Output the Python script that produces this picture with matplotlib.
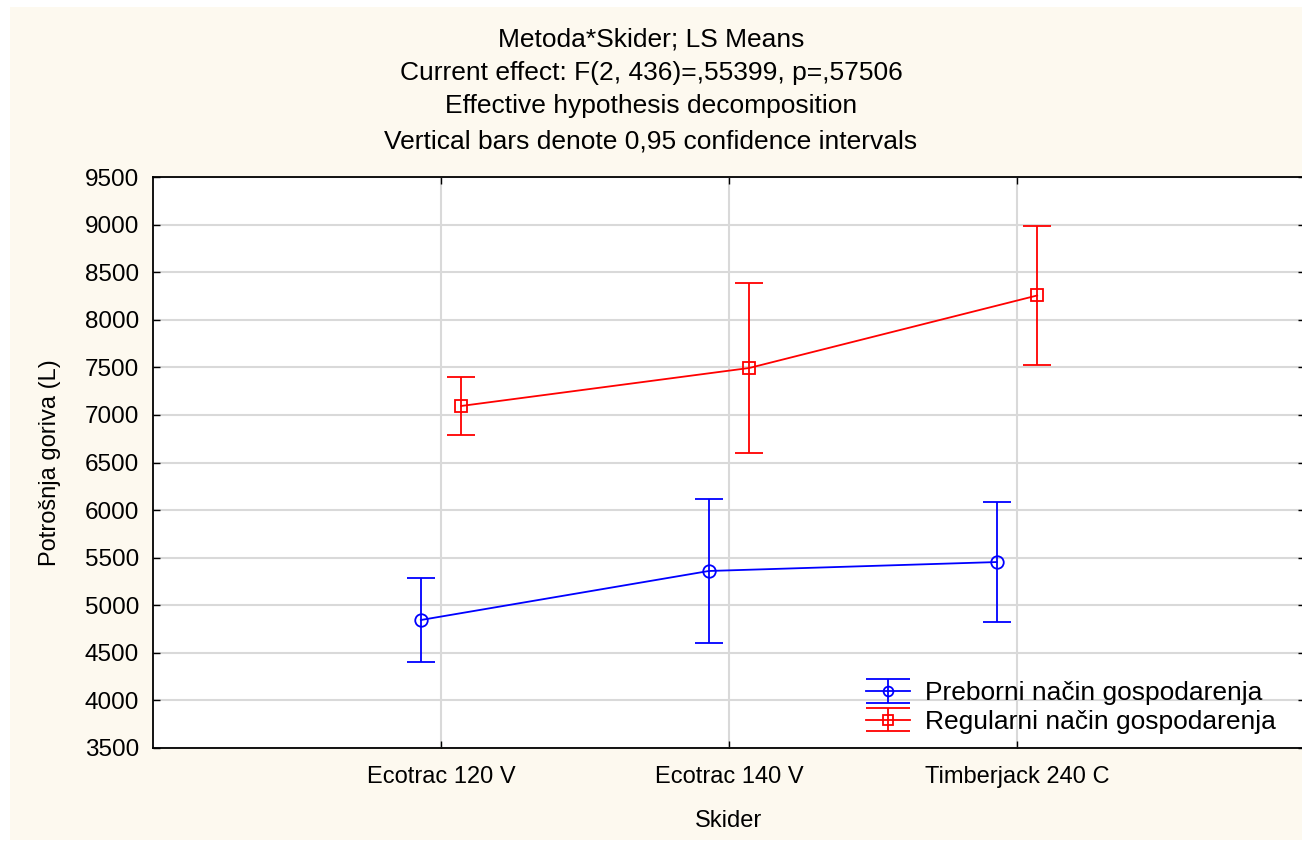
import matplotlib.pyplot as plt
from matplotlib.patches import Rectangle
from matplotlib.container import ErrorbarContainer
from matplotlib.legend_handler import HandlerErrorbar

plt.rcParams['font.family'] = ['Liberation Sans', 'DejaVu Sans']

skideri = ['Ecotrac 120 V', 'Ecotrac 140 V', 'Timberjack 240 C']
preborni_mean = [4845, 5360, 5454]
preborni_low = [4403, 4603, 4824]
preborni_high = [5286, 6116, 6085]
regularni_mean = [7094, 7493, 8255]
regularni_low = [6789, 6600, 7524]
regularni_high = [7398, 8386, 8985]
yticks = list(range(3500, 9501, 500))

W, H = 1302, 843
fig = plt.figure(figsize=(W / 100, H / 100), dpi=100, facecolor='white')
# cream background like the Statistica export
fig.patches.append(Rectangle((10 / W, 3 / H), 1 - 10 / W, 1 - 10 / H,
                             transform=fig.transFigure, facecolor='#fdf9ef',
                             edgecolor='none', zorder=-10))
ax = fig.add_axes([153 / W, 1 - 748 / H, (1305 - 153) / W, (748 - 177) / H])
ax.set_zorder(1)
ax.set_facecolor('white')

x = [1, 2, 3]
off = 0.07
xb = [i - off for i in x]
xr = [i + off for i in x]

err_b = [[m - l for m, l in zip(preborni_mean, preborni_low)],
         [h - m for m, h in zip(preborni_mean, preborni_high)]]
err_r = [[m - l for m, l in zip(regularni_mean, regularni_low)],
         [h - m for m, h in zip(regularni_mean, regularni_high)]]

style = dict(ms=9, mfc='none', mew=1.3, lw=1.3, elinewidth=1.3, capthick=1.3, zorder=3)
ax.errorbar(xb, preborni_mean, yerr=err_b, color='#0000ff', marker='o', capsize=10, **style)
ax.errorbar(xr, regularni_mean, yerr=err_r, color='#ff0000', marker='s', capsize=10, **style)

# legend-only handles with wide caps like in Statistica
lg_style = dict(ms=7, mfc='none', mew=1.3, lw=1.3, elinewidth=1.3, capthick=1.3, capsize=16)
h1 = ax.errorbar([float('nan')], [float('nan')], yerr=[1], color='#0000ff', marker='o',
                 label='Preborni način gospodarenja', **lg_style)
h2 = ax.errorbar([float('nan')], [float('nan')], yerr=[1], color='#ff0000', marker='s',
                 label='Regularni način gospodarenja', **lg_style)

ax.set_xlim(0, 4)
ax.set_ylim(3500, 9500)
ax.set_xticks(x)
ax.set_xticklabels(skideri, fontsize=17)
ax.set_yticks(yticks)
ax.set_yticklabels([str(v) for v in yticks], fontsize=17.5)
ax.tick_params(direction='in', length=5, width=1, pad=10, top=True, right=True)
ax.tick_params(axis='x', pad=13)
ax.grid(True, color='#d9d9d9', lw=1.5)
ax.set_axisbelow(True)
for s in ax.spines.values():
    s.set_linewidth(1.3)
    s.set_color('black')

ax.set_xlabel('Skider', fontsize=17, labelpad=16)
ax.set_ylabel('Potrošnja goriva (L)', fontsize=17, labelpad=17)

fs_title = 19
fig.text(0.5, 1 - 40 / H, 'Metoda*Skider; LS Means', ha='center', va='center', fontsize=fs_title)
fig.text(0.5, 1 - 73 / H, 'Current effect: F(2, 436)=,55399, p=,57506', ha='center', va='center', fontsize=fs_title)
fig.text(0.5, 1 - 106 / H, 'Effective hypothesis decomposition', ha='center', va='center', fontsize=fs_title)
fig.text(0.5, 1 - 141 / H, 'Vertical bars denote 0,95 confidence intervals', ha='center', va='center', fontsize=fs_title)

ax.legend(handles=[h1, h2], loc='center left', bbox_to_anchor=(866 / W, 1 - 707.5 / H),
          bbox_transform=fig.transFigure, frameon=False, fontsize=19,
          handlelength=1.65, handletextpad=0.6, labelspacing=0.18, borderpad=0,
          borderaxespad=0, handler_map={ErrorbarContainer: HandlerErrorbar(yerr_size=0.44)})

fig.savefig('out.png', dpi=100, facecolor=fig.get_facecolor())
